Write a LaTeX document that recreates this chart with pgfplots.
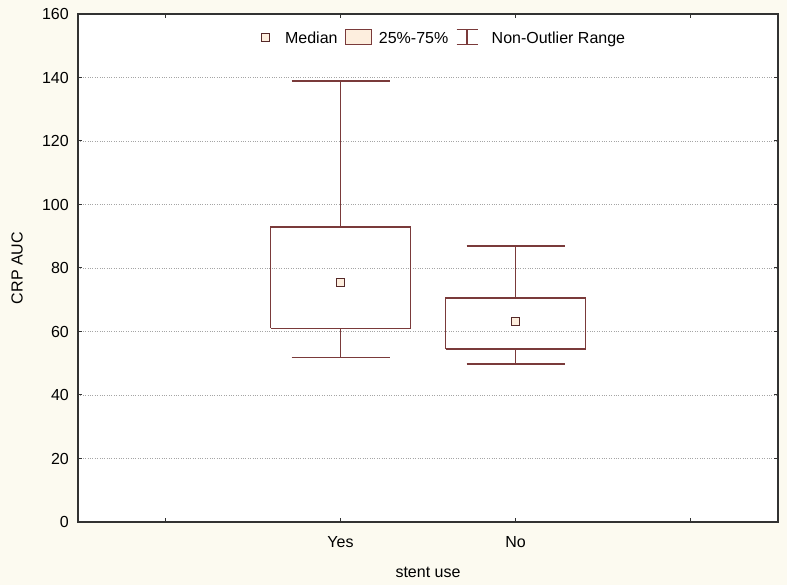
\documentclass[border=0pt]{standalone}
\usepackage{fontspec}
\setmainfont{Liberation Sans}
\usepackage{pgfplots}
\pgfplotsset{compat=1.18}
\definecolor{boxc}{RGB}{122,58,58}
\definecolor{pagebg}{RGB}{252,250,240}
\definecolor{peach}{RGB}{253,238,222}
\definecolor{axisc}{RGB}{50,50,50}
\definecolor{gridc}{RGB}{165,165,165}

\begin{document}
\begin{tikzpicture}
% page background
\fill[pagebg] (-78bp,-63bp) rectangle (709bp,522bp);
\begin{axis}[
  at={(0,0)}, anchor=south west,
  scale only axis, width=700bp, height=508bp,
  xmin=0, xmax=4, ymin=0, ymax=160,
  axis background/.style={fill=white},
  axis line style={axisc, line width=1.3bp},
  xtick={0.5,1.5,2.5,3.5},
  xticklabels={,Yes,No,},
  ytick={0,20,...,160},
  tick align=inside, tick pos=both,
  major tick length=4bp,
  tick style={axisc, line width=1bp},
  ymajorgrids, grid style={gridc, dotted, line width=0.8bp},
  font=\fontsize{16bp}{19bp}\selectfont,
  /pgf/number format/assume math mode=true,
  yticklabel style={anchor=east, inner sep=0pt, xshift=-9bp},
  xticklabel style={anchor=center, inner sep=0pt, yshift=-20bp},
  xlabel={stent use},
  ylabel={CRP AUC},
  xlabel style={at={(axis description cs:0.5,-0.0984)}, anchor=center, inner sep=0pt},
  ylabel style={at={(axis description cs:-0.087,0.5)}, anchor=center, inner sep=0pt},
  legend columns=3,
  legend style={draw=none, fill=white, at={(0.522,0.975)}, anchor=north,
    inner sep=1bp, nodes={inner sep=2bp}},
  legend cell align=left,
  every axis plot/.append style={forget plot},
]
% Yes: whiskers (138.9 / 51.8), quartiles (92.9 / 61.0)
\addplot[boxc, line width=1.6bp] coordinates {(1.5,92.9) (1.5,138.9)};
\addplot[boxc, line width=1.6bp] coordinates {(1.22,138.9) (1.78,138.9)};
\addplot[boxc, line width=1.6bp] coordinates {(1.5,61.0) (1.5,51.8)};
\addplot[boxc, line width=1.6bp] coordinates {(1.22,51.8) (1.78,51.8)};
\addplot[boxc, line width=1.6bp] coordinates {(1.1,61.0) (1.9,61.0) (1.9,92.9) (1.1,92.9) (1.1,61.0)};
% No: whiskers (86.9 / 49.7), quartiles (70.6 / 54.5)
\addplot[boxc, line width=1.6bp] coordinates {(2.5,70.6) (2.5,86.9)};
\addplot[boxc, line width=1.6bp] coordinates {(2.22,86.9) (2.78,86.9)};
\addplot[boxc, line width=1.6bp] coordinates {(2.5,54.5) (2.5,49.7)};
\addplot[boxc, line width=1.6bp] coordinates {(2.22,49.7) (2.78,49.7)};
\addplot[boxc, line width=1.6bp] coordinates {(2.1,54.5) (2.9,54.5) (2.9,70.6) (2.1,70.6) (2.1,54.5)};
% medians
\addplot[only marks, mark=square*, mark size=4bp,
  mark options={draw=boxc!70!black, fill=peach, line width=1.3bp}]
  coordinates {(1.5,75.5) (2.5,63.1)};

\addlegendimage{legend image code/.code={
  \draw[boxc!70!black, fill=peach, line width=1.2bp] (2bp,-4bp) rectangle (10bp,4bp);
  \path (0bp,0bp) (23bp,0bp);}}
\addlegendentry{\strut Median}
\addlegendimage{legend image code/.code={
  \draw[boxc, fill=peach, line width=1.2bp] (6bp,-7.5bp) rectangle (32bp,7.5bp);
  \path (0bp,0bp) (37bp,0bp);}}
\addlegendentry{\strut 25\%-75\%}
\addlegendimage{legend image code/.code={
  \draw[boxc, line width=1.2bp] (6bp,7.5bp) -- (27bp,7.5bp)
    (16.5bp,7.5bp) -- (16.5bp,-7.5bp) (6bp,-7.5bp) -- (27bp,-7.5bp);
  \path (0bp,0bp) (39bp,0bp);}}
\addlegendentry{\strut Non-Outlier Range}
\end{axis}
\end{tikzpicture}
\end{document}
